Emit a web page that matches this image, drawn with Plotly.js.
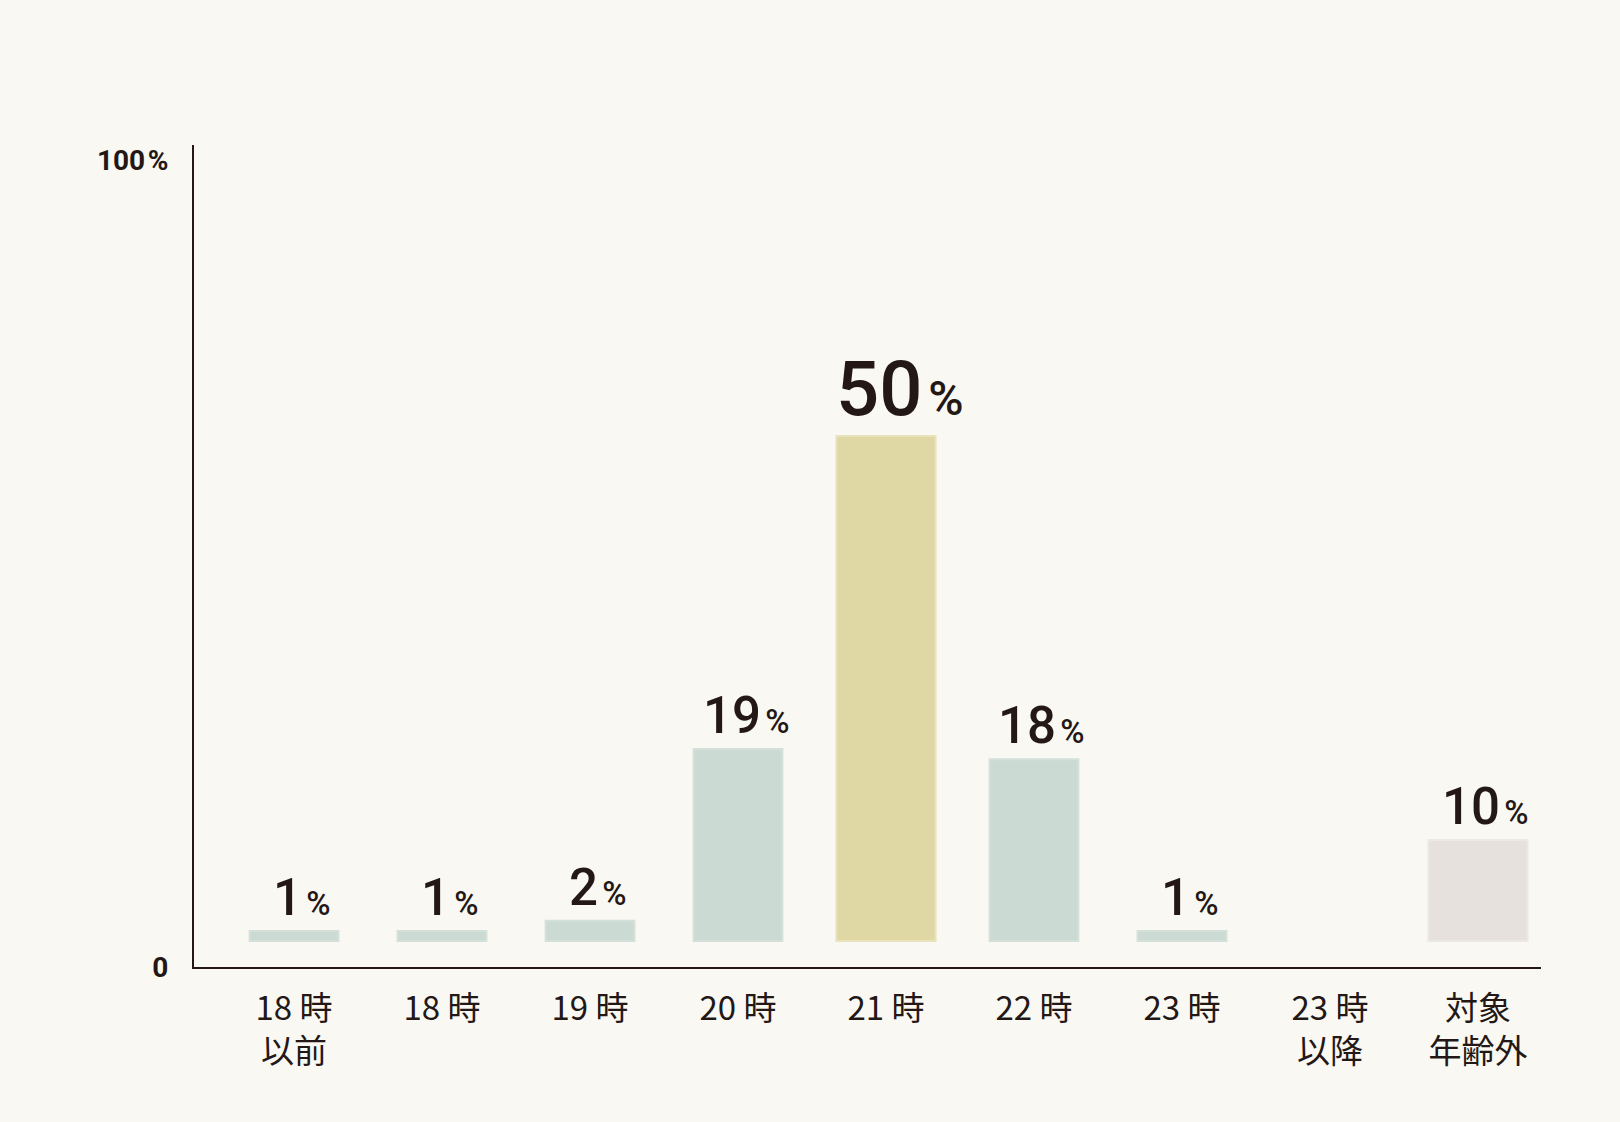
<!DOCTYPE html>
<html>
<head>
<meta charset="utf-8">
<script src="https://cdn.plot.ly/plotly-3.0.1.min.js"></script>
<style>
  html, body { margin: 0; padding: 0; background: #faf8f3; }
  #graph { width: 1620px; height: 1122px; }
</style>
</head>
<body>
<div id="graph"></div>
<script>
/* ---------------- data ---------------- */

var categories = ['18 時<br>以前', '18 時', '19 時', '20 時', '21 時', '22 時', '23 時', '23 時<br>以降', '対象<br>年齢外'];
var shares = [1, 1, 2, 19, 50, 18, 1, null, 10]; // percent, the empty slot has no bar
var axisTicks = [0, 100];
var axisTickText = ['0', '100<span style="font-size:10px"> </span>%'];

/* ---------------- styling ---------------- */

var ink = '#231815';
var paper = '#faf8f3';
var mint = '#cbdbd3';
var khaki = '#e0d8a4';
var greige = '#e6e1dd';
var peak = 4;     // index of the 50% bar
var outside = 8;  // index of the out of range bar

function barColor(i) {
    if (i === peak) return khaki;
    if (i === outside) return greige;
    return mint;
}

function barEdge(i) {
    if (i === peak) return '#e9e3bd';
    if (i === outside) return '#ece8e5';
    return '#d3e1da';
}

function barWidth(i) {
    return (i === peak || i === outside) ? 0.67 : 0.6;
}

/**
 * Builds the value label: big number followed by a smaller percent sign.
 */
function labelText(v, i) {
    var big = i === peak ? 76 : 51;
    var small = i === peak ? 48 : 33;
    return '<span style="font-size:' + big + 'px">' + v + '</span>' +
        '<span style="font-size:' + Math.round(small / 2) + 'px"> </span>' +
        '<span style="font-size:' + small + 'px">%</span>';
}

// bars live on the main y axis (hidden), the drawn 0 - 100% axis sits on top of it
var bars = {
    x: categories,
    y: shares,
    type: 'bar',
    width: shares.map(function(v, i) { return barWidth(i); }),
    marker: {
        color: shares.map(function(v, i) { return barColor(i); }),
        line: {
            width: 2,
            color: shares.map(function(v, i) { return barEdge(i); })
        }
    },
    hoverinfo: 'skip',
    showlegend: false
};

// an empty overlaid axis is not drawn, so give it an invisible carrier trace
var scaleCarrier = {
    x: [categories[0], categories[0]],
    y: axisTicks,
    yaxis: 'y2',
    type: 'scatter',
    mode: 'markers',
    marker: { opacity: 0 },
    hoverinfo: 'skip',
    showlegend: false
};

var annotations = [];
shares.forEach(function(v, i) {
    if (v === null) return;
    annotations.push({
        x: categories[i],
        y: v,
        xref: 'x',
        yref: 'y',
        xanchor: 'center',
        yanchor: 'bottom',
        xshift: i === peak ? 14 : 8,
        yshift: i === peak ? 0 : 2,
        text: labelText(v, i),
        showarrow: false,
        font: { family: 'Roboto, Noto Sans, sans-serif', color: ink, weight: 500 }
    });
});

var layout = {
    width: 1620,
    height: 1122,
    paper_bgcolor: paper,
    plot_bgcolor: paper,
    margin: { l: 194, r: 79, t: 145, b: 155 },
    xaxis: {
        type: 'category',
        range: [-0.676, 8.426],
        showline: true,
        linecolor: ink,
        linewidth: 2,
        showgrid: false,
        zeroline: false,
        ticks: '',
        ticklabelstandoff: 11,
        tickfont: { family: 'Noto Sans CJK JP, sans-serif', size: 33, color: ink },
        fixedrange: true
    },
    yaxis: {
        range: [-2.574, 78.81],
        showline: false,
        showgrid: false,
        zeroline: false,
        showticklabels: false,
        ticks: '',
        fixedrange: true
    },
    yaxis2: {
        overlaying: 'y',
        side: 'left',
        range: [0, 101.9],
        tickvals: axisTicks,
        ticktext: axisTickText,
        showline: true,
        linecolor: ink,
        linewidth: 2,
        showgrid: false,
        zeroline: false,
        ticks: '',
        ticklabelstandoff: 18,
        tickfont: { family: 'Roboto, Noto Sans, sans-serif', size: 28, color: ink, weight: 'bold' },
        fixedrange: true
    },
    annotations: annotations
};

var graph = document.getElementById('graph');
Plotly.newPlot(graph, [bars, scaleCarrier], layout, { staticPlot: true });
</script>
</body>
</html>
